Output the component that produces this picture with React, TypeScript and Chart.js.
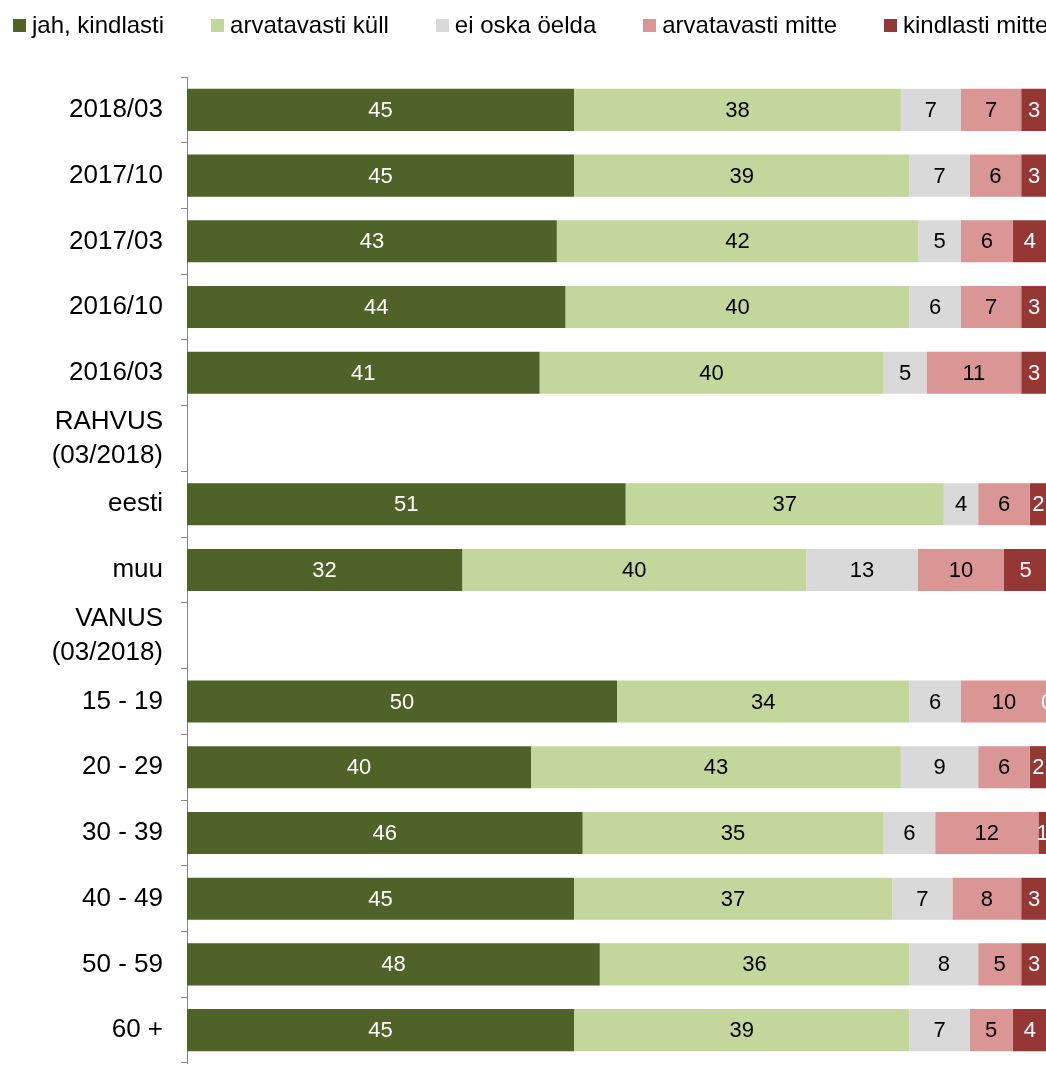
import React, { useEffect, useRef } from "react";
import { Chart, registerables } from "chart.js";

Chart.register(...registerables);

const categories: (string | string[])[] = [
  "2018/03", "2017/10", "2017/03", "2016/10", "2016/03",
  ["RAHVUS", "(03/2018)"], "eesti", "muu",
  ["VANUS", "(03/2018)"], "15 - 19", "20 - 29", "30 - 39", "40 - 49", "50 - 59", "60 +",
];

const seriesNames = ["jah, kindlasti", "arvatavasti küll", "ei oska öelda", "arvatavasti mitte", "kindlasti mitte"];

const jahKindlasti = [45, 45, 43, 44, 41, null, 51, 32, null, 50, 40, 46, 45, 48, 45];
const arvatavastiKull = [38, 39, 42, 40, 40, null, 37, 40, null, 34, 43, 35, 37, 36, 39];
const eiOskaOelda = [7, 7, 5, 6, 5, null, 4, 13, null, 6, 9, 6, 7, 8, 7];
const arvatavastiMitte = [7, 6, 6, 7, 11, null, 6, 10, null, 10, 6, 12, 8, 5, 5];
const kindlastiMitte = [3, 3, 4, 3, 3, null, 2, 5, null, 0, 2, 1, 3, 3, 4];

const seriesColors = ["#4F6228", "#C3D69B", "#D9D9D9", "#D99694", "#953735"];
const labelColors = ["#FFFFFF", "#000000", "#000000", "#000000", "#FFFFFF"];

const FONT = "'Liberation Sans', Arial, sans-serif";

const valueLabels = {
  id: "valueLabels",
  afterDatasetsDraw(chart: any) {
    const ctx = chart.ctx;
    ctx.save();
    ctx.font = `22px ${FONT}`;
    ctx.textAlign = "center";
    ctx.textBaseline = "middle";
    chart.data.datasets.forEach((ds: any, di: number) => {
      const meta = chart.getDatasetMeta(di);
      meta.data.forEach((el: any, i: number) => {
        const v = ds.data[i];
        if (v === null || v === undefined) return;
        const cx = (el.x + el.base) / 2;
        ctx.fillStyle = labelColors[di];
        ctx.fillText(String(v), cx, el.y + 1);
      });
    });
    ctx.restore();
  },
};

export default function App() {
  const ref = useRef<HTMLCanvasElement | null>(null);

  useEffect(() => {
    if (!ref.current) return;
    const seriesData = [jahKindlasti, arvatavastiKull, eiOskaOelda, arvatavastiMitte, kindlastiMitte];
    const chart = new Chart(ref.current, {
      type: "bar",
      data: {
        labels: categories as any,
        datasets: seriesData.map((d, i) => ({
          label: seriesNames[i],
          data: d as any,
          backgroundColor: seriesColors[i],
          borderWidth: 0,
          barPercentage: 0.64,
          categoryPercentage: 1,
        })),
      },
      options: {
        indexAxis: "y",
        responsive: false,
        animation: false,
        devicePixelRatio: 1,
        layout: { padding: { top: 77, bottom: 2, left: 0, right: 13 } },
        plugins: { legend: { display: false }, tooltip: { enabled: false } },
        scales: {
          x: { stacked: true, min: 0, max: 100, display: false },
          y: {
            stacked: true,
            grid: {
              display: true,
              drawOnChartArea: false,
              drawTicks: true,
              tickLength: 6,
              color: "#868686",
              offset: true,
            },
            border: { display: true, color: "#868686", width: 1 },
            ticks: {
              color: "#000000",
              font: { family: FONT, size: 26, lineHeight: 1.3 },
              padding: 18,
              autoSkip: false,
            },
            afterFit: (s: any) => {
              s.width = 187;
              s.paddingTop = 0;
              s.paddingBottom = 0;
            },
          },
        },
      },
      plugins: [valueLabels],
    });
    return () => chart.destroy();
  }, []);

  return (
    <div
      style={{
        position: "fixed",
        left: 0,
        top: 0,
        width: 1046,
        height: 1065,
        overflow: "hidden",
        background: "#fff",
      }}
    >
      <canvas ref={ref} width={1060} height={1065} style={{ position: "absolute", left: 0, top: 0 }} />
      <div
        style={{
          position: "absolute",
          left: 13,
          top: 11,
          display: "flex",
          gap: 47,
          whiteSpace: "nowrap",
          fontFamily: FONT,
          fontSize: 24,
          lineHeight: "28px",
          color: "#000",
        }}
      >
        {seriesNames.map((n, i) => (
          <div key={n} style={{ display: "flex", alignItems: "center" }}>
            <span
              style={{ display: "inline-block", width: 13, height: 13, background: seriesColors[i], marginRight: 6 }}
            />
            <span>{n}</span>
          </div>
        ))}
      </div>
    </div>
  );
}
